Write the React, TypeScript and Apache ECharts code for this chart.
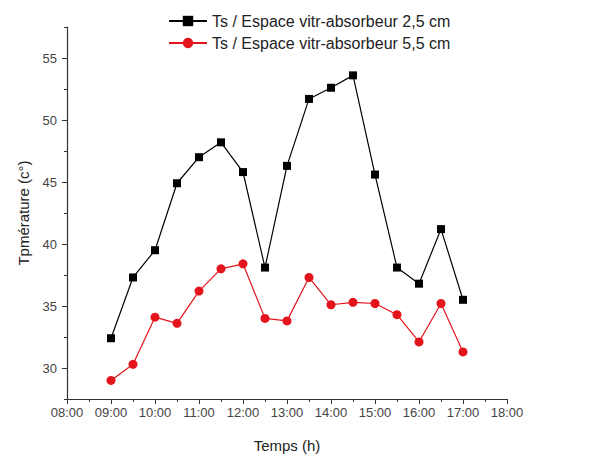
import React, { useEffect, useRef } from "react";
import * as echarts from "echarts";

const times = ["09:00","09:30","10:00","10:30","11:00","11:30","12:00","12:30","13:00","13:30","14:00","14:30","15:00","15:30","16:00","16:30","17:00"];
const series25 = [32.4, 37.3, 39.5, 44.9, 47.0, 48.2, 45.8, 38.1, 46.3, 51.7, 52.6, 53.6, 45.6, 38.1, 36.8, 41.2, 35.5];
const series55 = [29.0, 30.3, 34.1, 33.6, 36.2, 38.0, 38.4, 34.0, 33.8, 37.3, 35.1, 35.3, 35.2, 34.3, 32.1, 35.2, 31.3];
const yMajorTicks = [30, 35, 40, 45, 50, 55];
const name25 = "Ts / Espace vitr-absorbeur 2,5 cm";
const name55 = "Ts / Espace vitr-absorbeur 5,5 cm";

const toHours = (t: string) => {
  const [h, m] = t.split(":").map(Number);
  return h + m / 60;
};
const fmtHour = (v: number) => (v < 10 ? "0" : "") + Math.round(v) + ":00";

export default function App() {
  const ref = useRef<HTMLDivElement>(null);
  useEffect(() => {
    if (!ref.current) return;
    const chart = echarts.init(ref.current, null, { renderer: "svg" });
    const font = "Liberation Sans, Arial, sans-serif";
    const axisColor = "#333";
    chart.setOption({
      animation: false,
      textStyle: { fontFamily: font },
      grid: { left: 53, right: 90, top: 19, bottom: 50 },
      legend: {
        orient: "vertical",
        left: 160,
        top: 5,
        itemWidth: 38,
        itemHeight: 13,
        itemGap: 6,
        padding: 0,
        textStyle: { fontSize: 16, color: "#222", fontFamily: font },
        data: [name25, name55],
      },
      xAxis: {
        type: "value",
        min: 8,
        max: 18,
        interval: 1,
        name: "Temps (h)",
        nameLocation: "middle",
        nameGap: 39,
        nameTextStyle: { fontSize: 15, color: "#222", fontFamily: font },
        axisLine: { show: true, lineStyle: { color: axisColor, width: 1.2 } },
        axisTick: { show: true, length: 5, lineStyle: { color: axisColor } },
        minorTick: { show: true, splitNumber: 2, length: 3, lineStyle: { color: axisColor } },
        axisLabel: { fontSize: 13, color: "#444", margin: 7, formatter: (v: number) => fmtHour(v) },
        splitLine: { show: false },
      },
      yAxis: [
        {
          type: "value",
          min: 27.5,
          max: 57.5,
          interval: 2.5,
          name: "Tpmérature (c°)",
          nameLocation: "middle",
          nameGap: 36,
          nameTextStyle: { fontSize: 15, color: "#222", fontFamily: font },
          axisLine: { show: true, lineStyle: { color: axisColor, width: 1.2 } },
          axisTick: { show: true, length: 3, lineStyle: { color: axisColor } },
          axisLabel: {
            fontSize: 13,
            color: "#444",
            margin: 10,
            formatter: (v: number) => (Math.abs(v % 5) < 1e-6 ? String(v) : ""),
          },
          splitLine: { show: false },
        },
        {
          type: "value",
          min: 27.5,
          max: 57.5,
          interval: 2.5,
          position: "left",
          axisLine: { show: false },
          axisTick: { show: true, length: 5, customValues: yMajorTicks, lineStyle: { color: axisColor } },
          axisLabel: { show: false },
          splitLine: { show: false },
        },
      ],
      series: [
        {
          name: name25,
          type: "line",
          data: times.map((t, i) => [toHours(t), series25[i]]),
          symbol: "rect",
          symbolSize: 8,
          itemStyle: { color: "#000" },
          lineStyle: { color: "#000", width: 1.2 },
        },
        {
          name: name55,
          type: "line",
          data: times.map((t, i) => [toHours(t), series55[i]]),
          symbol: "circle",
          symbolSize: 9,
          itemStyle: { color: "#e3141b" },
          lineStyle: { color: "#e3141b", width: 1.2 },
        },
      ],
    });
    return () => chart.dispose();
  }, []);
  return <div ref={ref} style={{ width: 589, height: 450 }} />;
}
